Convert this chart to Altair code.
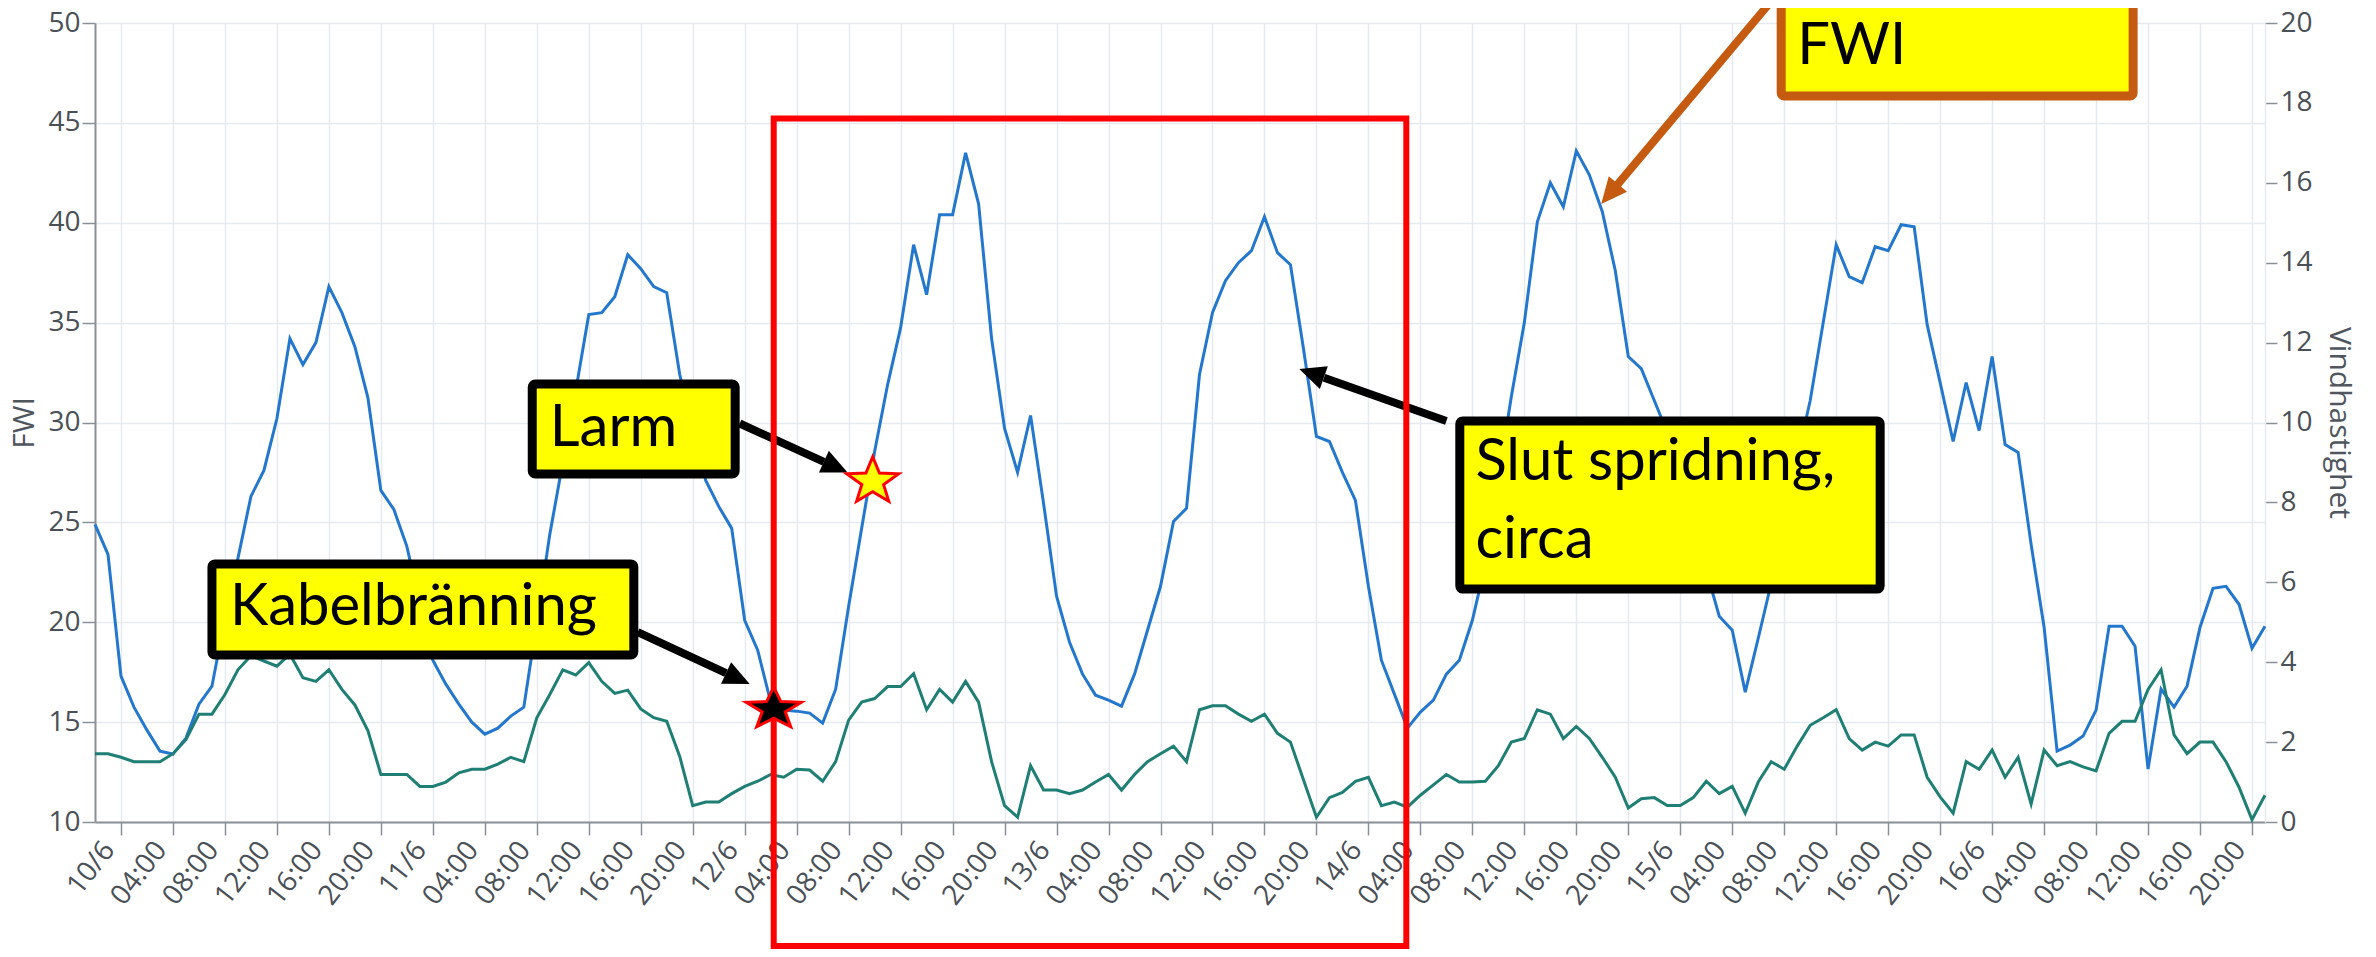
import json
import math
import altair as alt
import pandas as pd

# ---------------- data ----------------
START = pd.Timestamp("2023-06-09 22:00")  # first hourly sample

FWI = [24.9, 23.4, 17.3, 15.75, 14.6, 13.55, 13.4, 14.2, 15.9, 16.8,
       20.2, 23.2, 26.3, 27.6, 30.2, 34.2, 32.9, 34.0, 36.8, 35.5,
       33.8, 31.25, 26.6, 25.65, 23.8, 20.9, 18.1, 16.9, 15.9, 15.0,
       14.4, 14.7, 15.3, 15.75, 20.0, 24.4, 28.0, 31.6, 35.4, 35.5,
       36.3, 38.4, 37.7, 36.8, 36.5, 32.4, 29.7, 27.1, 25.8, 24.7,
       20.1, 18.6, 16.0, 15.6, 15.55, 15.45, 14.95, 16.65, 20.8, 24.7,
       28.55, 31.9, 34.75, 38.9, 36.4, 40.4, 40.4, 43.5, 40.95, 34.2,
       29.7, 27.5, 30.35, 25.95, 21.3, 19.0, 17.4, 16.35, 16.1, 15.8,
       17.4, 19.6, 21.8, 25.05, 25.7, 32.4, 35.5, 37.1, 38.0, 38.6,
       40.3, 38.5, 37.9, 33.7, 29.3, 29.05, 27.5, 26.1, 21.8, 18.1,
       16.4, 14.7, 15.5, 16.1, 17.4, 18.1, 20.1, 22.9, 27.2, 31.3,
       35.0, 40.05, 42.0, 40.8, 43.6, 42.4, 40.55, 37.6, 33.3, 32.7,
       31.1, 29.5, 27.2, 25.0, 22.6, 20.3, 19.6, 16.5, 19.2, 21.95,
       25.1, 28.2, 31.1, 35.0, 38.9, 37.3, 37.0, 38.8, 38.6, 39.9,
       39.8, 34.9, 32.0, 29.05, 32.0, 29.6, 33.3, 28.9, 28.5, 23.9,
       19.75, 13.55, 13.85, 14.3, 15.6, 19.8, 19.8, 18.8, 12.65, 16.65,
       15.75, 16.8, 19.75, 21.7, 21.8, 20.9, 18.7, 19.8]

VIND = [1.71, 1.71, 1.62, 1.51, 1.51, 1.51, 1.71, 2.06, 2.70, 2.70,
        3.19, 3.81, 4.16, 4.03, 3.90, 4.20, 3.61, 3.52, 3.81, 3.32,
        2.93, 2.29, 1.19, 1.19, 1.19, 0.89, 0.89, 1.00, 1.23, 1.32,
        1.32, 1.45, 1.62, 1.51, 2.61, 3.19, 3.81, 3.68, 3.99, 3.52,
        3.22, 3.30, 2.83, 2.61, 2.52, 1.64, 0.41, 0.50, 0.50, 0.71,
        0.89, 1.02, 1.19, 1.12, 1.32, 1.30, 1.02, 1.51, 2.55, 3.00,
        3.09, 3.39, 3.39, 3.71, 2.81, 3.32, 3.00, 3.52, 3.00, 1.51,
        0.41, 0.12, 1.41, 0.80, 0.80, 0.71, 0.80, 1.00, 1.19, 0.80,
        1.19, 1.51, 1.71, 1.90, 1.51, 2.81, 2.91, 2.91, 2.70, 2.52,
        2.70, 2.22, 2.00, 1.06, 0.12, 0.61, 0.74, 1.02, 1.12, 0.41,
        0.50, 0.37, 0.67, 0.93, 1.19, 1.00, 1.00, 1.02, 1.41, 2.00,
        2.09, 2.81, 2.70, 2.09, 2.39, 2.09, 1.62, 1.12, 0.35, 0.58,
        0.61, 0.41, 0.41, 0.61, 1.02, 0.71, 0.89, 0.22, 1.00, 1.51,
        1.32, 1.90, 2.42, 2.61, 2.81, 2.09, 1.80, 2.00, 1.90, 2.18,
        2.18, 1.12, 0.63, 0.22, 1.51, 1.32, 1.80, 1.12, 1.62, 0.45,
        1.80, 1.41, 1.51, 1.38, 1.28, 2.22, 2.52, 2.52, 3.32, 3.81,
        2.18, 1.71, 2.00, 2.00, 1.51, 0.87, 0.06, 0.67]

TIMES = [(START + pd.Timedelta(hours=i)).strftime("%Y-%m-%dT%H:%M:%SZ")
         for i in range(len(FWI))]

TICK_LABELS = ["10/6", "04:00", "08:00", "12:00", "16:00", "20:00",
               "11/6", "04:00", "08:00", "12:00", "16:00", "20:00",
               "12/6", "04:00", "08:00", "12:00", "16:00", "20:00",
               "13/6", "04:00", "08:00", "12:00", "16:00", "20:00",
               "14/6", "04:00", "08:00", "12:00", "16:00", "20:00",
               "15/6", "04:00", "08:00", "12:00", "16:00", "20:00",
               "16/6", "04:00", "08:00", "12:00", "16:00", "20:00"]

FWI_TICKS = [10, 15, 20, 25, 30, 35, 40, 45, 50]
VIND_TICKS = [0, 2, 4, 6, 8, 10, 12, 14, 16, 18, 20]

# annotations (time, FWI-value units)
RECT_T = ["2023-06-12T02:14:00Z", "2023-06-14T02:55:00Z"]
RECT_V = [45.22, 3.79]

BOX_T1 = ["2023-06-11T07:39:00Z", "2023-06-10T07:00:00Z", "2023-06-14T07:02:00Z", "2023-06-15T07:46:00Z"]
BOX_T2 = ["2023-06-11T23:16:00Z", "2023-06-11T15:28:00Z", "2023-06-15T15:23:00Z", "2023-06-16T10:51:00Z"]
BOX_V1 = [31.93, 22.92, 30.08, 53.5]
BOX_V2 = [27.42, 18.36, 21.66, 46.35]
BOX_BORDER = ["#000000", "#000000", "#000000", "#c55a11"]

TEXT_T = ["2023-06-11T09:00:00Z", "2023-06-10T08:23:00Z", "2023-06-14T08:14:00Z",
          "2023-06-14T08:14:00Z", "2023-06-15T09:00:00Z"]
TEXT_V = [28.82, 19.86, 27.12, 23.22, 47.95]
TEXT_S = ["Larm", "Kabelbränning", "Slut spridning,", "circa", "FWI"]

ARROW_T1 = ["2023-06-11T15:46:00Z", "2023-06-11T23:37:00Z", "2023-06-14T06:00:00Z", "2023-06-15T08:04:00Z"]
ARROW_V1 = [19.51, 29.95, 30.08, 51.92]
ARROW_T2 = ["2023-06-11T22:34:00Z", "2023-06-12T06:06:00Z", "2023-06-13T20:35:00Z", "2023-06-14T19:06:00Z"]
ARROW_V2 = [17.45, 28.03, 32.24, 41.86]
TIP_T = ["2023-06-12T00:23:00Z", "2023-06-12T07:55:00Z", "2023-06-13T18:41:00Z", "2023-06-14T17:55:00Z"]
TIP_V = [16.91, 27.50, 32.68, 40.94]
TIP_ANGLE = [114.9, 114.4, 289.5, 220.0]
ARROW_COL = ["#000000", "#000000", "#000000", "#c55a11"]

STAR_BLACK_T = ["2023-06-12T02:14:00Z"]
STAR_BLACK_V = [15.76]
STAR_YELLOW_T = ["2023-06-12T09:51:00Z"]
STAR_YELLOW_V = [27.17]

# ---------------- helpers ----------------
def ms(ts):
    return int(pd.Timestamp(ts).value // 10**6)

DOM = [ms(START), ms(START + pd.Timedelta(hours=len(FWI) - 1))]
TICK_MS = [ms(pd.Timestamp("2023-06-10 00:00") + pd.Timedelta(hours=4 * i)) for i in range(len(TICK_LABELS))]

def star_path(k, r_in=0.42):
    pts = []
    for i in range(10):
        a = math.radians(-90 + 36 * i)
        r = 1.0 if i % 2 == 0 else r_in
        pts.append((r * math.cos(a), (r * math.sin(a) + 0.0955) * k))
    return "M" + "L".join(f"{x:.3f},{y:.3f}" for x, y in pts) + "Z"

ARROW_PATH = "M0,0L-0.46,1L0.46,1Z"

GRID = "#e6e9ed"
AXC = "#8a9097"
LABC = "#4a5057"
FONT = "Open Sans"
BOXFONT = "Lato"

xscale = alt.Scale(type="utc", domain=DOM)
yscale = alt.Scale(domain=[10, 50], nice=False, zero=False)
wscale = alt.Scale(domain=[0, 20], nice=False, zero=True)

label_expr = f"{json.dumps(TICK_LABELS)}[round((datum.value - {TICK_MS[0]}) / 14400000)]"

xaxis = alt.Axis(values=TICK_MS, labelExpr=label_expr, labelAngle=-52, labelAlign="right",
                 labelBaseline="middle", labelFontSize=28, labelFont=FONT, labelColor=LABC,
                 labelPadding=10, labelOffset=-12, labelOverlap=False, labelFlush=False,
                 tickSize=13, tickColor=AXC, tickWidth=1.5, domainColor=AXC, domainWidth=2,
                 grid=True, gridColor=GRID, gridWidth=1.5, title=None)

yaxis = alt.Axis(values=FWI_TICKS, orient="left", grid=True, gridColor=GRID, gridWidth=1.5,
                 domainColor=AXC, domainWidth=2, tickSize=13, tickColor=AXC, tickWidth=1.5,
                 labelFontSize=28, labelFont=FONT, labelColor=LABC, labelPadding=2, labelFlush=False,
                 title="FWI", titleFont=FONT, titleFontSize=30, titleFontWeight="normal",
                 titleColor="#50565d", titleAngle=270, titleX=-71, titleY=399.5,
                 titleAlign="center", titleBaseline="middle")

waxis = alt.Axis(values=VIND_TICKS, orient="right", grid=False, domainColor=GRID, domainWidth=1.5,
                 tickSize=12, tickColor=AXC, tickWidth=1.5, labelFontSize=28, labelFont=FONT,
                 labelColor=LABC, labelPadding=3, labelFlush=False,
                 title="Vindhastighet", titleFont=FONT, titleFontSize=30, titleFontWeight="normal",
                 titleColor="#50565d", titleAngle=90, titleX=73, titleY=399.5,
                 titleAlign="center", titleBaseline="middle")

df = pd.DataFrame({"t": TIMES, "FWI": FWI, "Vind": VIND})

fwi_line = alt.Chart(df).mark_line(color="#2377cc", strokeWidth=3).encode(
    x=alt.X("t:T", scale=xscale, axis=xaxis),
    y=alt.Y("FWI:Q", scale=yscale, axis=yaxis),
)
wind_line = alt.Chart(df).mark_line(color="#1f7f74", strokeWidth=3).encode(
    x=alt.X("t:T", scale=xscale),
    y=alt.Y("Vind:Q", scale=wscale, axis=waxis),
)

arrow_df = pd.DataFrame({"t1": ARROW_T1, "v1": ARROW_V1, "t2": ARROW_T2, "v2": ARROW_V2, "col": ARROW_COL})
arrow_lines = alt.Chart(arrow_df).mark_rule(strokeWidth=8, strokeCap="butt").encode(
    x=alt.X("t1:T", scale=xscale), x2="t2:T",
    y=alt.Y("v1:Q", scale=yscale, axis=None), y2="v2:Q",
    color=alt.Color("col:N", scale=None),
)
tip_df = pd.DataFrame({"t": TIP_T, "v": TIP_V, "ang": TIP_ANGLE, "col": ARROW_COL})
arrow_heads = alt.Chart(tip_df).mark_point(shape=ARROW_PATH, filled=True, size=2704, opacity=1,
                                           strokeWidth=0).encode(
    x=alt.X("t:T", scale=xscale),
    y=alt.Y("v:Q", scale=yscale, axis=None),
    angle=alt.Angle("ang:Q", scale=None),
    color=alt.Color("col:N", scale=None),
)

rect_df = pd.DataFrame({"t1": [RECT_T[0]], "t2": [RECT_T[1]], "v1": [RECT_V[0]], "v2": [RECT_V[1]]})
red_rect = alt.Chart(rect_df).mark_rect(fillOpacity=0, stroke="#ff0000", strokeWidth=6).encode(
    x=alt.X("t1:T", scale=xscale), x2="t2:T",
    y=alt.Y("v1:Q", scale=yscale, axis=None), y2="v2:Q",
)

box_df = pd.DataFrame({"t1": BOX_T1, "t2": BOX_T2, "v1": BOX_V1, "v2": BOX_V2, "border": BOX_BORDER})
boxes = alt.Chart(box_df).mark_rect(fill="#ffff00", strokeWidth=9, cornerRadius=3).encode(
    x=alt.X("t1:T", scale=xscale), x2="t2:T",
    y=alt.Y("v1:Q", scale=yscale, axis=None), y2="v2:Q",
    stroke=alt.Stroke("border:N", scale=None),
)

text_df = pd.DataFrame({"t": TEXT_T, "v": TEXT_V, "s": TEXT_S})
texts = alt.Chart(text_df).mark_text(font=BOXFONT, fontSize=58, align="left", baseline="alphabetic",
                                     color="#000000").encode(
    x=alt.X("t:T", scale=xscale),
    y=alt.Y("v:Q", scale=yscale, axis=None),
    text="s:N",
)

sb_df = pd.DataFrame({"t": STAR_BLACK_T, "v": STAR_BLACK_V})
star_black = alt.Chart(sb_df).mark_point(shape=star_path(0.76), filled=True, fill="#000000",
                                         stroke="#ff0000", strokeWidth=3, size=3345, opacity=1).encode(
    x=alt.X("t:T", scale=xscale),
    y=alt.Y("v:Q", scale=yscale, axis=None),
)
sy_df = pd.DataFrame({"t": STAR_YELLOW_T, "v": STAR_YELLOW_V})
star_yellow = alt.Chart(sy_df).mark_point(shape=star_path(0.9), filled=True, fill="#ffff00",
                                          stroke="#ff0000", strokeWidth=3, size=2985, opacity=1).encode(
    x=alt.X("t:T", scale=xscale),
    y=alt.Y("v:Q", scale=yscale, axis=None),
)

chart = alt.layer(
    fwi_line, wind_line, arrow_lines, arrow_heads, red_rect, boxes, texts, star_black, star_yellow
).resolve_scale(y="independent").properties(
    width=2170, height=799,
    padding={"left": 87, "top": 15, "right": 103, "bottom": 127},
    autosize=alt.AutoSizeParams(type="none"),
).configure_view(strokeWidth=0).configure(background="#ffffff")

chart.save("out.html", embed_options={"renderer": "svg", "actions": False})
